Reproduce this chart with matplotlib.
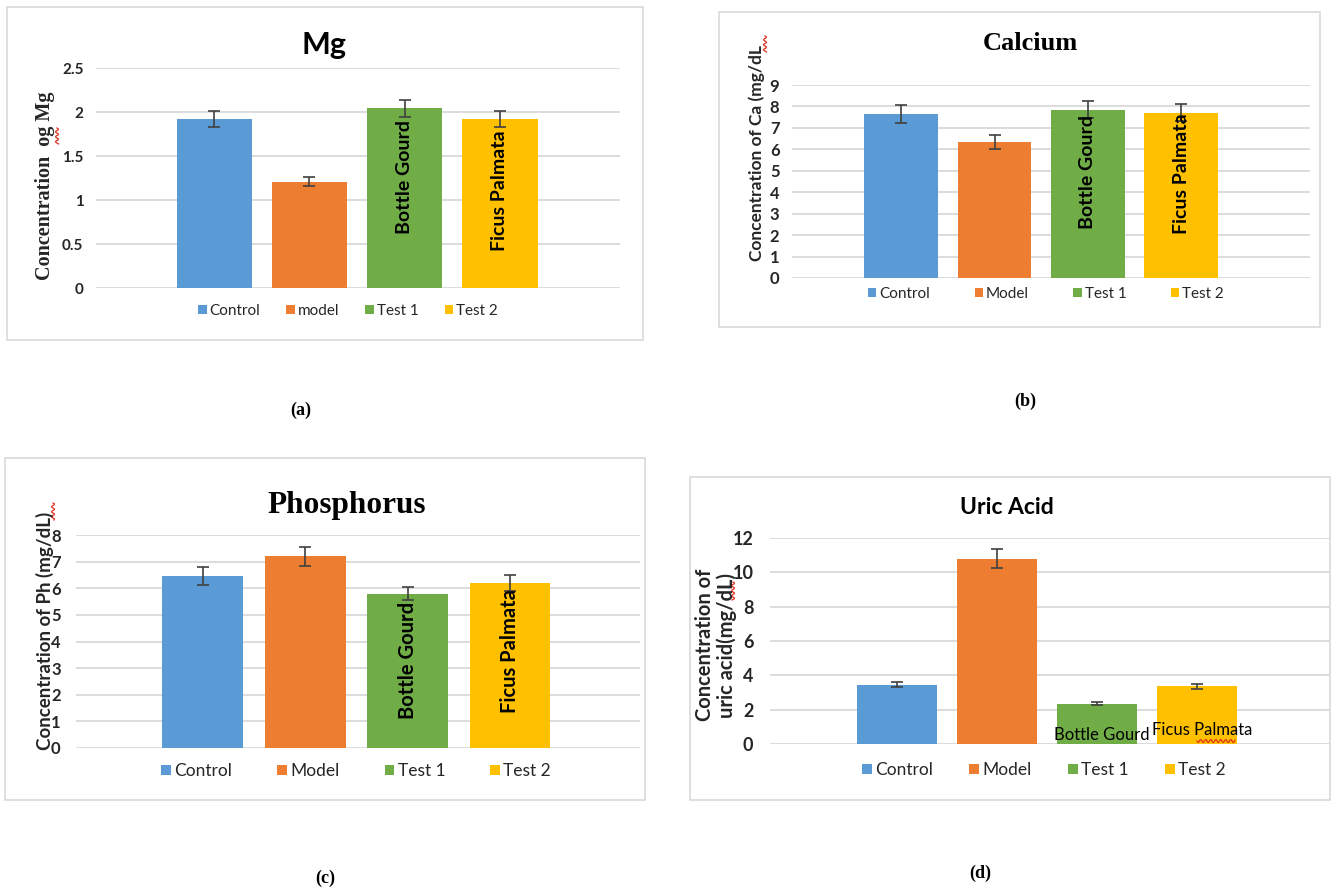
import matplotlib
matplotlib.use("Agg")
import numpy as np
import matplotlib.pyplot as plt
from matplotlib.patches import Rectangle, Patch
from matplotlib.lines import Line2D

# ---- data ----
groups = ["Control", "Model", "Test 1", "Test 2"]
mg_legend = ["Control", "model", "Test 1", "Test 2"]
colors = ["#5b9bd5", "#ed7d31", "#70ad47", "#ffc000"]

mg_values = [1.92, 1.21, 2.04, 1.92]
mg_err = [0.09, 0.05, 0.10, 0.09]
mg_ticks = [0, 0.5, 1, 1.5, 2, 2.5]
mg_ticklabels = ["0", "0.5", "1", "1.5", "2", "2.5"]

ca_values = [7.65, 6.35, 7.85, 7.70]
ca_err = [0.40, 0.32, 0.40, 0.40]
ca_ticks = list(range(0, 10))

ph_values = [6.45, 7.20, 5.80, 6.20]
ph_err = [0.33, 0.35, 0.26, 0.30]
ph_ticks = list(range(0, 9))

ua_values = [3.45, 10.80, 2.35, 3.35]
ua_err = [0.15, 0.55, 0.08, 0.15]
ua_ticks = [0, 2, 4, 6, 8, 10, 12]

bar_notes = ["Bottle Gourd", "Ficus Palmata"]

W, H = 1336, 890
fig = plt.figure(figsize=(W / 100, H / 100), dpi=100)
fig.patch.set_facecolor("white")

SANS = ["Lato", "DejaVu Sans"]
SERIF = ["Liberation Serif", "DejaVu Serif"]


def fx(x):
    return x / W


def fy(y):
    return 1 - y / H


def px_axes(x0, y0, x1, y1):
    return fig.add_axes([fx(x0), fy(y1), (x1 - x0) / W, (y1 - y0) / H])


def frame(x0, y0, x1, y1):
    fig.add_artist(Rectangle((fx(x0), fy(y1)), (x1 - x0) / W, (y1 - y0) / H,
                             transform=fig.transFigure, fill=False,
                             edgecolor="#d9d9d9", linewidth=1.2))


def squiggle(x0, y0, length, vertical=True):
    # small red wavy underline like a spell-check mark
    t = np.linspace(0, length, int(length) + 1)
    w = 1.6 * np.sin(t * np.pi / 2.5)
    if vertical:
        xs, ys = x0 + w, y0 + t
    else:
        xs, ys = x0 + t, y0 + w
    fig.add_artist(Line2D(fx(xs), fy(ys), transform=fig.transFigure,
                          color="#e0301e", linewidth=0.9))


def panel(box, ax_px, xlim, values, errs, ticks, ticklabels, tick_size, tick_pad,
          title, title_font, title_size, title_xy, ylabel, ylabel_font,
          ylabel_size, ylabel_xy, legend_labels, legend_xy, legend_size,
          legend_spacing, cap_label, cap_xy, note_pos, note_size,
          rotated_notes=True, width=0.79):
    frame(*box)
    ax = px_axes(*ax_px)
    x = list(range(len(values)))
    ax.bar(x, values, width=width, color=colors, zorder=2)
    ax.errorbar(x, values, yerr=errs, fmt="none", ecolor="#404040",
                elinewidth=1.2, capsize=4, capthick=1.2, zorder=3)
    ax.set_xlim(*xlim)
    ax.set_ylim(ticks[0], ticks[-1])
    ax.set_yticks(ticks)
    ax.set_yticklabels(ticklabels if ticklabels else [str(t) for t in ticks],
                       fontfamily=SANS, fontweight="bold", fontsize=tick_size,
                       color="#262626")
    ax.set_xticks([])
    ax.tick_params(axis="y", length=0, pad=tick_pad)
    ax.yaxis.grid(True, color="#d9d9d9", linewidth=1.3, zorder=0)
    ax.set_axisbelow(True)
    for s in ax.spines.values():
        s.set_visible(False)
    ax.patch.set_alpha(0)

    # notes written on the two test bars
    for xi, note, ypos in zip([2, 3], bar_notes, note_pos):
        if rotated_notes:
            ax.text(xi, ypos, note, rotation=90, ha="center", va="center",
                    fontsize=note_size, fontweight="bold", fontfamily=SANS,
                    color="black", zorder=4)
        else:
            ax.text(xi + 0.05, ypos, note, ha="center", va="center",
                    fontsize=note_size, fontfamily=SANS, color="black",
                    zorder=4)

    fig.text(fx(title_xy[0]), fy(title_xy[1]), title, ha="center", va="center",
             fontsize=title_size, fontweight="bold", fontfamily=title_font,
             color="black")
    fig.text(fx(ylabel_xy[0]), fy(ylabel_xy[1]), ylabel, rotation=90,
             ha="center", va="center", fontsize=ylabel_size,
             fontweight="bold", fontfamily=ylabel_font, color="#262626",
             linespacing=1.1)

    handles = [Patch(facecolor=c, edgecolor="none") for c in colors]
    leg = fig.legend(handles, legend_labels, loc="center",
                     bbox_to_anchor=(fx(legend_xy[0]), fy(legend_xy[1])), ncol=4,
                     frameon=False, handlelength=0.55, handleheight=0.55,
                     handletextpad=0.2, columnspacing=legend_spacing,
                     prop={"family": SANS, "size": legend_size})
    for t in leg.get_texts():
        t.set_color("#262626")
    fig.text(fx(cap_xy[0]), fy(cap_xy[1]), cap_label, ha="center",
             va="center", fontsize=13, fontweight="bold", fontfamily=SERIF)
    return ax


# (a) Mg
panel(box=(7, 7, 643, 340), ax_px=(96, 68, 620, 288), xlim=(-1.24, 4.26),
      values=mg_values, errs=mg_err, ticks=mg_ticks, ticklabels=mg_ticklabels,
      tick_size=11, tick_pad=9,
      title="Mg", title_font=SANS, title_size=22, title_xy=(324, 45),
      ylabel="Concentration  og Mg", ylabel_font=SERIF, ylabel_size=14.5,
      ylabel_xy=(45, 186), legend_labels=mg_legend, legend_xy=(348, 311),
      legend_size=11, legend_spacing=1.7, cap_label="(a)", cap_xy=(301, 410),
      note_pos=(1.26, 1.11), note_size=14)
squiggle(57, 128, 16)

# (b) Calcium
panel(box=(719, 12, 1320, 327), ax_px=(792, 85, 1310, 278), xlim=(-1.17, 4.38),
      values=ca_values, errs=ca_err, ticks=ca_ticks, ticklabels=None,
      tick_size=12, tick_pad=9,
      title="Calcium", title_font=SERIF, title_size=19, title_xy=(1030, 43),
      ylabel="Concentration of Ca (mg/dL", ylabel_font=SANS, ylabel_size=12.5,
      ylabel_xy=(757, 153), legend_labels=groups, legend_xy=(1046, 294),
      legend_size=11, legend_spacing=2.9, cap_label="(b)", cap_xy=(1025, 401),
      note_pos=(4.95, 4.86), note_size=14)
squiggle(765, 36, 16)

# (c) Phosphorus
panel(box=(5, 458, 645, 800), ax_px=(76, 535, 640, 748), xlim=(-1.24, 4.27),
      values=ph_values, errs=ph_err, ticks=ph_ticks, ticklabels=None,
      tick_size=12, tick_pad=11,
      title="Phosphorus", title_font=SERIF, title_size=22.5, title_xy=(347, 505),
      ylabel="Concentration of Ph (mg/dL)", ylabel_font=SANS, ylabel_size=13.5,
      ylabel_xy=(45, 631), legend_labels=groups, legend_xy=(356, 771),
      legend_size=12.5, legend_spacing=2.6, cap_label="(c)", cap_xy=(325, 878),
      note_pos=(3.3, 3.65), note_size=14.5)
squiggle(53, 503, 17)

# (d) Uric acid
panel(box=(690, 477, 1330, 800), ax_px=(770, 538, 1330, 744), xlim=(-1.27, 4.33),
      values=ua_values, errs=ua_err, ticks=ua_ticks, ticklabels=None,
      tick_size=13, tick_pad=12,
      title="Uric Acid", title_font=SANS, title_size=16.5, title_xy=(1007, 507),
      ylabel="Concentration of\nuric acid(mg/dL)", ylabel_font=SANS,
      ylabel_size=14.5, ylabel_xy=(716, 645), legend_labels=groups,
      legend_xy=(1044, 770), legend_size=12.5, legend_spacing=2.1,
      cap_label="(d)", cap_xy=(980, 873), note_pos=(0.55, 0.8), note_size=12,
      rotated_notes=False, width=0.8)
squiggle(733, 582, 18)
squiggle(1197, 741, 38, vertical=False)

fig.savefig("out.png", dpi=100, facecolor="white")
